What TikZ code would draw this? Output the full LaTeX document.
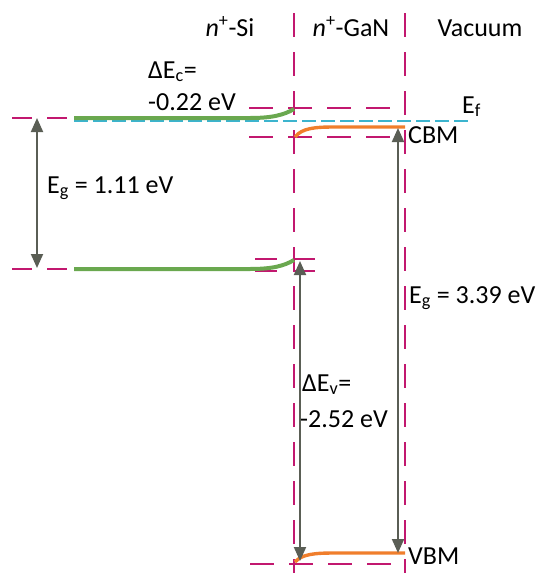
\documentclass[tikz,border=0pt]{standalone}
\usepackage{fontspec}
\setmainfont{Carlito}
\usetikzlibrary{arrows.meta}
\definecolor{mag}{HTML}{C2186F}
\definecolor{grn}{HTML}{6AA84F}
\definecolor{org}{HTML}{F07E2C}
\definecolor{cyn}{HTML}{3CB4CE}
\definecolor{arr}{HTML}{5A5E55}
\tikzset{
  magline/.style={draw=mag,line width=2.2pt,dash pattern=on 24pt off 15pt},
  grnline/.style={draw=grn,line width=4pt},
  orgline/.style={draw=org,line width=3.4pt},
  cynline/.style={draw=cyn,line width=2.8pt,dash pattern=on 14pt off 5pt},
  dblarrow/.style={draw=arr,line width=2pt,{Triangle[width=12pt,length=14pt]}-{Triangle[width=12pt,length=14pt]}},
  lbl/.style={inner sep=0pt,anchor=base west,font=\fontsize{26}{30}\selectfont},
  lblc/.style={inner sep=0pt,anchor=base,font=\fontsize{26}{30}\selectfont}
}
\begin{document}
\begin{tikzpicture}[x=1pt,y=-1pt]
\useasboundingbox (0,0) rectangle (551,573);
% vertical boundaries
\coordinate (v1t) at (294,13); \coordinate (v1b) at (294,573);
\coordinate (v2t) at (405,13); \coordinate (v2b) at (405,573);
\draw[magline] (v1t) -- (v1b);
\draw[magline] (v2t) -- (v2b);
% Si levels (magenta reference lines)
\coordinate (sicl) at (12,118); \coordinate (sicr) at (255,118);
\coordinate (sivl) at (12,269); \coordinate (sivr) at (255,269);
\draw[magline,dash pattern=on 20pt off 15pt] (sicl) -- (sicr);
\draw[magline,dash pattern=on 20pt off 15pt] (sivl) -- (sivr);
% GaN reference lines
\coordinate (gu1) at (249,108); \coordinate (gu2) at (405,108);
\coordinate (gl1) at (249,137); \coordinate (gl2) at (405,137);
\draw[magline] (gu1) -- (gu2);
\draw[magline] (gl1) -- (gl2);
\coordinate (sv1) at (255,259); \coordinate (sv2) at (318,259);
\coordinate (sw1) at (255,271); \coordinate (sw2) at (318,271);
\draw[magline,dash pattern=on 22pt off 16pt] (sv1) -- (sv2);
\draw[magline,dash pattern=on 22pt off 16pt] (sw1) -- (sw2);
\coordinate (gb1) at (250,564); \coordinate (gb2) at (405,564);
\draw[magline] (gb1) -- (gb2);
% Fermi level
\coordinate (ef1) at (74,121); \coordinate (ef2) at (471,121);
\draw[cynline] (ef1) -- (ef2);
% Si bands
\coordinate (gc0) at (74,118); \coordinate (gc1) at (250,118); \coordinate (gc2) at (294,109);
\draw[grnline] (gc0) -- (gc1) .. controls (272,118) and (284,115) .. (gc2);
\coordinate (gv0) at (74,269); \coordinate (gv1) at (250,269); \coordinate (gv2) at (294,260);
\draw[grnline] (gv0) -- (gv1) .. controls (272,269) and (284,266) .. (gv2);
% GaN bands
\coordinate (oc0) at (295,137); \coordinate (oc1) at (335,127); \coordinate (oc2) at (405,127);
\draw[orgline] (oc0) .. controls (302,128) and (315,127) .. (oc1) -- (oc2);
\coordinate (ov0) at (295,562); \coordinate (ov1) at (335,553); \coordinate (ov2) at (405,553);
\draw[orgline] (ov0) .. controls (302,554) and (315,553) .. (ov1) -- (ov2);
% arrows
\coordinate (a1t) at (37,118); \coordinate (a1b) at (37,268);
\draw[dblarrow] (a1t) -- (a1b);
\coordinate (a2t) at (300,261); \coordinate (a2b) at (300,561);
\draw[dblarrow] (a2t) -- (a2b);
\coordinate (a3t) at (398,128); \coordinate (a3b) at (398,553);
\draw[dblarrow] (a3t) -- (a3b);
% labels
\node[lblc] (tsi) at (230,36) {\textit{n}\textsuperscript{+}-Si};
\node[lblc] (tgan) at (351,36) {\textit{n}\textsuperscript{+}-GaN};
\node[lblc] (tvac) at (480,36) {Vacuum};
\node[lbl] (dec1) at (148,78) {ΔE\textsubscript{c}=};
\node[lbl] (dec2) at (148,110) {-0.22 eV};
\node[lbl] (ef) at (462,113) {E\textsubscript{f}};
\node[lbl] (cbm) at (408,143) {CBM};
\node[lbl] (eg1) at (47,193) {E\textsubscript{g} = 1.11 eV};
\node[lbl] (eg2) at (409,303) {E\textsubscript{g} = 3.39 eV};
\node[lbl] (dev1) at (302,391) {ΔE\textsubscript{v}=};
\node[lbl] (dev2) at (300,427) {-2.52 eV};
\node[lbl] (vbm) at (408,564) {VBM};
\end{tikzpicture}
\end{document}
